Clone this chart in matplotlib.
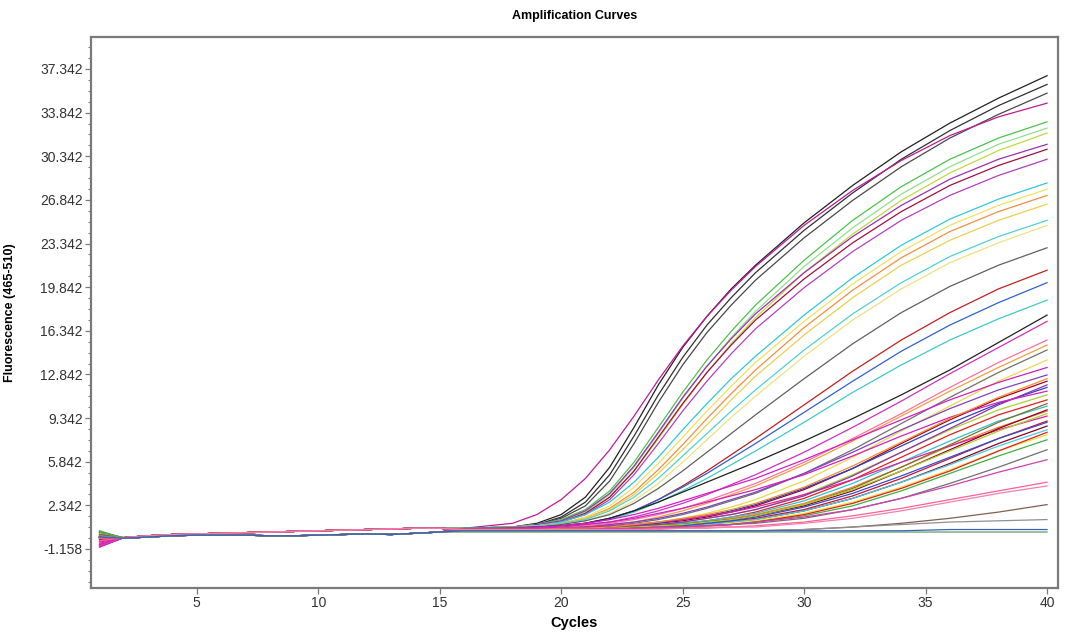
import numpy as np
import matplotlib
matplotlib.use("Agg")
import matplotlib.pyplot as plt
from matplotlib.ticker import MultipleLocator, AutoMinorLocator

# cycles 2..15 baselines (two slightly different levels)
base_cycles = list(range(2, 16))
base_hi = [-0.25, -0.1, 0.0, 0.05, 0.1, 0.15, 0.2, 0.25, 0.3, 0.35, 0.4, 0.45, 0.5, 0.5]
base_lo = [-0.3, -0.2, -0.1, -0.05, -0.05, -0.05, -0.1, -0.1, -0.05, 0.0, 0.05, 0.0, 0.1, 0.2]

rise_cycles = [16, 18, 19, 20, 21, 22, 23, 24, 25, 26, 27, 28, 30, 32, 34, 36, 38, 40]

# fluorescence per curve at rise_cycles
rise = [
    # early, high plateau
    [0.5, 0.6, 0.9, 1.6, 3.0, 5.4, 8.6, 12.0, 15.0, 17.5, 19.7, 21.6, 25.0, 28.0, 30.7, 33.0, 35.0, 36.8],
    [0.5, 0.6, 0.8, 1.4, 2.6, 4.8, 7.9, 11.2, 14.2, 16.8, 19.0, 21.0, 24.4, 27.4, 30.1, 32.4, 34.4, 36.1],
    [0.5, 0.6, 0.8, 1.3, 2.3, 4.3, 7.3, 10.6, 13.6, 16.2, 18.4, 20.4, 23.8, 26.8, 29.5, 31.8, 33.7, 35.4],
    [0.5, 0.9, 1.6, 2.8, 4.5, 6.8, 9.5, 12.4, 15.1, 17.5, 19.6, 21.5, 24.8, 27.6, 30.0, 32.0, 33.5, 34.6],
    [0.5, 0.6, 0.8, 1.2, 2.0, 3.5, 5.8, 8.6, 11.4, 14.0, 16.3, 18.4, 22.0, 25.2, 27.9, 30.1, 31.8, 33.1],
    [0.5, 0.6, 0.8, 1.1, 1.8, 3.2, 5.4, 8.1, 10.9, 13.5, 15.8, 17.9, 21.5, 24.6, 27.3, 29.5, 31.3, 32.6],
    [0.5, 0.6, 0.7, 1.0, 1.7, 3.0, 5.1, 7.7, 10.4, 13.0, 15.3, 17.4, 21.0, 24.1, 26.8, 29.0, 30.8, 32.2],
    [0.5, 0.6, 0.8, 1.1, 1.9, 3.3, 5.5, 8.2, 11.0, 13.5, 15.7, 17.7, 21.0, 23.9, 26.4, 28.5, 30.1, 31.3],
    [0.5, 0.6, 0.7, 1.0, 1.7, 3.0, 5.1, 7.8, 10.5, 13.0, 15.2, 17.2, 20.5, 23.4, 25.9, 28.0, 29.6, 30.9],
    [0.5, 0.6, 0.7, 1.0, 1.6, 2.8, 4.8, 7.3, 9.9, 12.3, 14.5, 16.5, 19.8, 22.7, 25.2, 27.2, 28.8, 30.1],
    # early, medium plateau
    [0.5, 0.6, 0.7, 1.0, 1.6, 2.6, 4.2, 6.2, 8.4, 10.5, 12.5, 14.3, 17.6, 20.6, 23.2, 25.3, 26.9, 28.2],
    [0.5, 0.6, 0.7, 0.9, 1.4, 2.3, 3.8, 5.7, 7.8, 9.9, 11.9, 13.8, 17.1, 20.1, 22.7, 24.8, 26.4, 27.7],
    [0.5, 0.6, 0.7, 0.9, 1.3, 2.1, 3.4, 5.2, 7.2, 9.3, 11.3, 13.2, 16.6, 19.6, 22.2, 24.3, 25.9, 27.2],
    [0.5, 0.6, 0.7, 0.9, 1.3, 2.0, 3.2, 4.9, 6.8, 8.8, 10.8, 12.7, 16.0, 19.0, 21.6, 23.6, 25.2, 26.5],
    [0.5, 0.6, 0.7, 0.9, 1.2, 1.9, 3.0, 4.5, 6.3, 8.1, 9.9, 11.6, 14.8, 17.7, 20.2, 22.3, 23.9, 25.2],
    [0.5, 0.6, 0.6, 0.8, 1.1, 1.7, 2.7, 4.1, 5.8, 7.6, 9.4, 11.1, 14.3, 17.2, 19.7, 21.8, 23.4, 24.8],
    [0.5, 0.6, 0.6, 0.8, 1.1, 1.6, 2.5, 3.7, 5.1, 6.6, 8.1, 9.6, 12.5, 15.3, 17.8, 19.9, 21.6, 23.0],
    [0.5, 0.5, 0.6, 0.7, 0.9, 1.3, 1.9, 2.8, 3.9, 5.1, 6.4, 7.7, 10.4, 13.1, 15.6, 17.8, 19.7, 21.2],
    [0.5, 0.5, 0.6, 0.7, 0.9, 1.3, 1.9, 2.8, 3.8, 4.9, 6.1, 7.3, 9.8, 12.3, 14.7, 16.8, 18.6, 20.2],
    [0.5, 0.5, 0.6, 0.7, 0.9, 1.2, 1.8, 2.6, 3.5, 4.5, 5.6, 6.7, 9.0, 11.4, 13.6, 15.6, 17.3, 18.8],
    [0.4, 0.5, 0.6, 0.7, 0.9, 1.3, 1.9, 2.6, 3.4, 4.2, 5.0, 5.8, 7.5, 9.3, 11.2, 13.2, 15.4, 17.6],
    [0.4, 0.5, 0.5, 0.6, 0.8, 1.0, 1.4, 1.9, 2.5, 3.2, 4.0, 4.8, 6.6, 8.6, 10.7, 12.9, 15.0, 17.1],
    # late cluster
    [0.4, 0.4, 0.5, 0.6, 0.7, 0.9, 1.2, 1.6, 2.1, 2.7, 3.4, 4.1, 5.8, 7.7, 9.7, 11.8, 13.8, 15.6],
    [0.4, 0.4, 0.5, 0.5, 0.6, 0.8, 1.0, 1.4, 1.9, 2.5, 3.2, 3.9, 5.6, 7.5, 9.5, 11.5, 13.4, 15.2],
    [0.4, 0.4, 0.4, 0.5, 0.6, 0.7, 0.9, 1.2, 1.6, 2.1, 2.7, 3.3, 4.9, 6.8, 8.9, 11.0, 13.0, 14.8],
    [0.4, 0.4, 0.4, 0.5, 0.5, 0.6, 0.8, 1.0, 1.3, 1.7, 2.2, 2.8, 4.3, 6.2, 8.3, 10.3, 12.3, 14.0],
    [0.4, 0.5, 0.6, 0.7, 0.9, 1.2, 1.6, 2.1, 2.7, 3.3, 3.9, 4.5, 6.0, 7.6, 9.2, 10.8, 12.2, 13.4],
    [0.4, 0.4, 0.5, 0.5, 0.6, 0.8, 1.0, 1.3, 1.7, 2.2, 2.8, 3.4, 4.9, 6.6, 8.4, 10.1, 11.6, 12.8],
    [0.4, 0.4, 0.4, 0.5, 0.5, 0.6, 0.7, 0.9, 1.1, 1.4, 1.8, 2.3, 3.6, 5.3, 7.3, 9.2, 10.9, 12.3],
    [0.4, 0.4, 0.4, 0.5, 0.5, 0.6, 0.7, 0.9, 1.2, 1.5, 1.9, 2.4, 3.7, 5.3, 7.1, 8.9, 10.5, 11.8],
    [0.4, 0.4, 0.4, 0.4, 0.5, 0.5, 0.6, 0.8, 1.0, 1.3, 1.6, 2.0, 3.2, 4.8, 6.6, 8.4, 10.0, 11.2],
    [0.4, 0.4, 0.4, 0.4, 0.5, 0.5, 0.6, 0.7, 0.9, 1.1, 1.4, 1.8, 2.9, 4.4, 6.2, 8.0, 9.6, 10.8],
    [0.4, 0.4, 0.4, 0.4, 0.5, 0.5, 0.6, 0.7, 0.9, 1.1, 1.4, 1.7, 2.7, 4.1, 5.8, 7.5, 9.1, 10.3],
    [0.4, 0.4, 0.4, 0.4, 0.5, 0.5, 0.6, 0.7, 0.8, 1.0, 1.3, 1.6, 2.5, 3.8, 5.4, 7.1, 8.6, 9.9],
    [0.4, 0.4, 0.4, 0.5, 0.6, 0.7, 0.8, 1.0, 1.2, 1.5, 1.8, 2.2, 3.2, 4.4, 5.8, 7.1, 8.4, 9.5],
    [0.4, 0.4, 0.4, 0.4, 0.4, 0.5, 0.5, 0.6, 0.7, 0.9, 1.1, 1.3, 2.0, 3.1, 4.5, 6.1, 7.7, 9.1],
    [0.4, 0.4, 0.4, 0.4, 0.4, 0.5, 0.5, 0.6, 0.7, 0.8, 1.0, 1.2, 1.9, 2.9, 4.2, 5.7, 7.3, 8.7],
    [0.4, 0.4, 0.4, 0.4, 0.4, 0.5, 0.5, 0.6, 0.7, 0.8, 1.0, 1.2, 1.9, 2.9, 4.2, 5.6, 7.1, 8.4],
    [0.4, 0.4, 0.4, 0.4, 0.4, 0.5, 0.5, 0.6, 0.6, 0.7, 0.9, 1.1, 1.7, 2.6, 3.8, 5.2, 6.7, 8.0],
    [0.4, 0.4, 0.4, 0.4, 0.4, 0.4, 0.5, 0.5, 0.6, 0.7, 0.8, 1.0, 1.5, 2.3, 3.5, 4.9, 6.3, 7.6],
    [0.4, 0.4, 0.4, 0.5, 0.5, 0.6, 0.7, 0.8, 1.0, 1.3, 1.6, 2.0, 3.1, 4.7, 6.6, 8.5, 10.4, 12.0],
    [0.4, 0.4, 0.4, 0.4, 0.5, 0.5, 0.6, 0.7, 0.8, 1.0, 1.2, 1.5, 2.4, 3.7, 5.4, 7.2, 9.0, 10.5],
    [0.4, 0.4, 0.4, 0.4, 0.4, 0.5, 0.6, 0.7, 0.8, 1.0, 1.2, 1.5, 2.3, 3.5, 5.1, 6.8, 8.5, 10.0],
    [0.4, 0.4, 0.5, 0.6, 0.8, 1.0, 1.3, 1.7, 2.1, 2.6, 3.1, 3.6, 4.8, 6.3, 7.9, 9.4, 10.6, 11.5],
    [0.4, 0.4, 0.4, 0.5, 0.5, 0.6, 0.8, 1.0, 1.3, 1.6, 2.0, 2.5, 3.8, 5.5, 7.4, 9.3, 11.0, 12.5],
    [0.4, 0.4, 0.4, 0.4, 0.4, 0.5, 0.5, 0.6, 0.7, 0.9, 1.1, 1.4, 2.2, 3.3, 4.7, 6.2, 7.7, 9.0],
    [0.4, 0.4, 0.4, 0.4, 0.4, 0.5, 0.6, 0.7, 0.8, 1.0, 1.2, 1.5, 2.4, 3.6, 5.1, 6.7, 8.3, 9.7],
    [0.4, 0.4, 0.4, 0.4, 0.4, 0.4, 0.5, 0.5, 0.6, 0.7, 0.8, 1.0, 1.6, 2.5, 3.7, 5.1, 6.7, 8.2],
    # very late / negative
    [0.4, 0.4, 0.4, 0.4, 0.4, 0.4, 0.5, 0.5, 0.6, 0.7, 0.8, 0.9, 1.3, 2.0, 2.9, 4.1, 5.4, 6.8],
    [0.4, 0.4, 0.4, 0.4, 0.4, 0.5, 0.5, 0.6, 0.6, 0.7, 0.8, 1.0, 1.4, 2.0, 2.9, 3.9, 5.0, 6.0],
    [0.4, 0.4, 0.4, 0.4, 0.4, 0.4, 0.4, 0.5, 0.5, 0.6, 0.6, 0.7, 1.0, 1.5, 2.1, 2.8, 3.5, 4.2],
    [0.4, 0.4, 0.4, 0.4, 0.4, 0.4, 0.4, 0.4, 0.5, 0.5, 0.6, 0.6, 0.9, 1.3, 1.9, 2.6, 3.3, 3.9],
    [0.3, 0.3, 0.3, 0.3, 0.3, 0.3, 0.3, 0.3, 0.3, 0.3, 0.3, 0.3, 0.4, 0.6, 0.9, 1.3, 1.8, 2.4],
    [0.3, 0.3, 0.3, 0.3, 0.3, 0.3, 0.3, 0.3, 0.3, 0.3, 0.3, 0.3, 0.4, 0.6, 0.8, 1.0, 1.1, 1.2],
    [0.2, 0.2, 0.2, 0.2, 0.2, 0.2, 0.2, 0.2, 0.2, 0.2, 0.2, 0.2, 0.2, 0.2, 0.2, 0.2, 0.2, 0.2],
    [0.3, 0.3, 0.3, 0.3, 0.3, 0.3, 0.3, 0.3, 0.3, 0.3, 0.3, 0.3, 0.3, 0.3, 0.3, 0.4, 0.4, 0.4],
]

colors = [
    "#202020", "#303030", "#484848", "#c0199a", "#4cc24c", "#90e090", "#c0d840", "#9b30b0", "#a01040", "#b040c0",
    "#30c8d8", "#f0e060", "#f09040", "#e8d050", "#50d0d0", "#f0e080", "#606060", "#c02020", "#3060d0", "#40c8c8",
    "#202020", "#d030c0",
    "#ff70a0", "#f0a040", "#707070", "#e8d850", "#d020c0", "#8040c0", "#a00020", "#3040c0", "#a8d030", "#e02020",
    "#30c0d0", "#f08030", "#e020a0", "#d01030", "#900020", "#40d0e0", "#f0e040", "#40b040", "#9030b0", "#807030",
    "#900020", "#d020c0", "#f09030", "#3050d0", "#a8d030", "#e02020",
    "#707070", "#d040b0", "#ff6090", "#f080b0", "#806050", "#909090", "#60a060", "#4060c0",
]

# value at cycle 1 and which baseline the curve follows (0 = hi, 1 = lo)
start = [
    -0.2, -0.2, 0.2, -1.0, 0.1, -0.2, -0.2, -0.8, -0.3, -0.9,
    -0.2, -0.1, -0.2, -0.2, -0.3, -0.2, 0.2, -0.4, -0.2, -0.2,
    0.2, -0.7,
    -0.6, -0.2, -0.1, -0.2, -1.0, -0.3, -0.2, -0.2, 0.1, -0.3,
    -0.2, -0.2, -0.8, -0.2, -0.3, -0.2, -0.2, 0.3, -0.5, 0.0,
    -0.2, -0.6, -0.2, -0.2, -0.1, -0.2,
    -0.1, -0.9, -0.5, -0.3, 0.0, -0.1, 0.2, -0.2,
]
base_kind = [
    0, 0, 0, 0, 1, 0, 0, 0, 1, 0,
    0, 0, 1, 0, 0, 0, 1, 0, 1, 0,
    1, 0,
    0, 0, 1, 0, 0, 0, 1, 0, 0, 0,
    1, 0, 0, 0, 1, 0, 0, 1, 0, 0,
    0, 0, 1, 1, 0, 0,
    1, 0, 0, 0, 1, 1, 1, 1,
]

y_ticks = [-1.158, 2.342, 5.842, 9.342, 12.842, 16.342, 19.842, 23.342, 26.842, 30.342, 33.842, 37.342]
x_ticks = [5, 10, 15, 20, 25, 30, 35, 40]

plt.rcParams['font.family'] = ['Liberation Sans', 'DejaVu Sans']

fig = plt.figure(figsize=(10.66, 6.39), dpi=100)
ax = fig.add_axes([0.0854, 0.0798, 0.9071, 0.8622])

x = [1] + base_cycles + rise_cycles
for vals, col, s0, bk in zip(rise, colors, start, base_kind):
    base = base_hi if bk == 0 else base_lo
    ax.plot(x, [s0] + base + vals, color=col, lw=0.9, solid_joinstyle='round')

ax.set_xlim(0.65, 40.45)
ax.set_ylim(-4.29, 39.9)
ax.set_xticks(x_ticks)
ax.set_yticks(y_ticks)
ax.set_yticklabels([f"{v:.3f}" for v in y_ticks])
ax.yaxis.set_minor_locator(AutoMinorLocator(4))

for sp in ax.spines.values():
    sp.set_color('#7a7a7a')
    sp.set_linewidth(1.6)
ax.tick_params(axis='both', which='major', length=4, width=0.9, color='#7a7a7a',
               labelsize=10, labelcolor='#333333', pad=2)
ax.tick_params(axis='y', which='minor', length=2, width=0.8, color='#7a7a7a')

ax.set_title("Amplification Curves", fontsize=9, fontweight='bold', pad=13)
ax.set_xlabel("Cycles", fontsize=10.5, fontweight='bold', labelpad=4)
ax.set_ylabel("Fluorescence (465-510)", fontsize=9, fontweight='bold')
ax.yaxis.set_label_coords(-0.078, 0.5)

fig.savefig("out.png", dpi=100)
